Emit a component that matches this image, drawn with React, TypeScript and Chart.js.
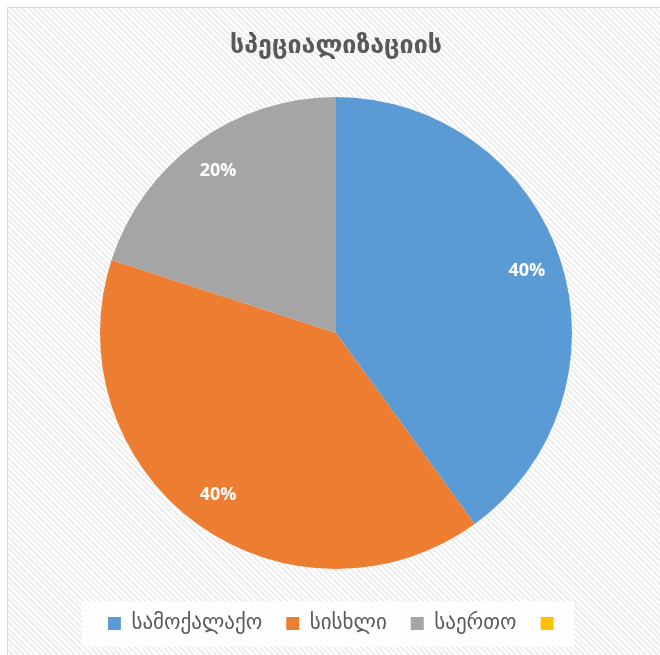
import React, { useEffect, useRef } from "react";
import { Chart, registerables } from "chart.js";

Chart.register(...registerables);

const chartTitle = "სპეციალიზაციის";
const categories = ["სამოქალაქო", "სისხლი", "საერთო", ""];
const values = [40, 40, 20, 0];
const sliceColors = ["#5B9BD5", "#ED7D31", "#A5A5A5", "#FFC000"];

const pctLabelPlugin = {
  id: "pctLabels",
  afterDatasetsDraw(chart: any) {
    const ctx = chart.ctx;
    const meta = chart.getDatasetMeta(0);
    const total = values.reduce((a, b) => a + b, 0);
    ctx.save();
    ctx.fillStyle = "#ffffff";
    ctx.font = "bold 18px 'Open Sans'";
    ctx.textAlign = "center";
    ctx.textBaseline = "middle";
    meta.data.forEach((arc: any, i: number) => {
      const v = values[i];
      if (!v) return;
      const p = arc.getProps(["startAngle", "endAngle", "outerRadius", "x", "y"], true);
      const mid = (p.startAngle + p.endAngle) / 2;
      const r = p.outerRadius * 0.85;
      ctx.fillText(Math.round((v / total) * 100) + "%", p.x + Math.cos(mid) * r, p.y + Math.sin(mid) * r);
    });
    ctx.restore();
  },
};

const legendBgPlugin = {
  id: "legendBg",
  beforeDraw(chart: any) {
    const lg = chart.legend;
    if (!lg || !lg.legendHitBoxes || !lg.legendHitBoxes.length) return;
    const hb = lg.legendHitBoxes;
    let l = Infinity, r = -Infinity, t = Infinity, b = -Infinity;
    hb.forEach((h: any) => {
      l = Math.min(l, h.left);
      r = Math.max(r, h.left + h.width);
      t = Math.min(t, h.top);
      b = Math.max(b, h.top + h.height);
    });
    const cy = (t + b) / 2;
    const ctx = chart.ctx;
    ctx.save();
    ctx.fillStyle = "rgba(255,255,255,0.85)";
    ctx.fillRect(l - 26, cy - 22, r - l + 26 + 10, 45);
    ctx.restore();
  },
};

export default function App() {
  const ref = useRef<HTMLCanvasElement>(null);
  useEffect(() => {
    if (!ref.current) return;
    const chart = new Chart(ref.current, {
      type: "pie",
      data: {
        labels: categories,
        datasets: [
          {
            data: values,
            backgroundColor: sliceColors,
            borderWidth: 0,
            radius: 236,
          } as any,
        ],
      },
      options: {
        responsive: false,
        animation: false,
        devicePixelRatio: 1,
        layout: { padding: { top: 0, bottom: 11, left: 0, right: 0 } },
        plugins: {
          title: {
            display: true,
            text: chartTitle,
            color: "#595959",
            font: { family: "DejaVu Sans", size: 25, weight: "bold" },
            padding: { top: 23, bottom: 16 },
          },
          legend: {
            position: "bottom",
            labels: {
              boxWidth: 13,
              boxHeight: 13,
              padding: 24,
              color: "#595959",
              font: { family: "DejaVu Sans", size: 21 },
            },
          },
          tooltip: { enabled: false },
        },
      },
      plugins: [pctLabelPlugin, legendBgPlugin],
    });
    return () => chart.destroy();
  }, []);

  return (
    <div
      style={{
        position: "fixed",
        left: 7,
        top: 7,
        width: 720,
        height: 720,
        borderLeft: "1px solid #d9d9d9",
        borderTop: "1px solid #d9d9d9",
        background:
          "repeating-linear-gradient(45deg, #ffffff 0px, #ffffff 2px, #eeeeee 2px, #eeeeee 4px)",
      }}
    >
      <canvas
        ref={ref}
        width={656}
        height={647}
        style={{ position: "absolute", left: 0, top: 0, width: 656, height: 647 }}
      />
    </div>
  );
}
